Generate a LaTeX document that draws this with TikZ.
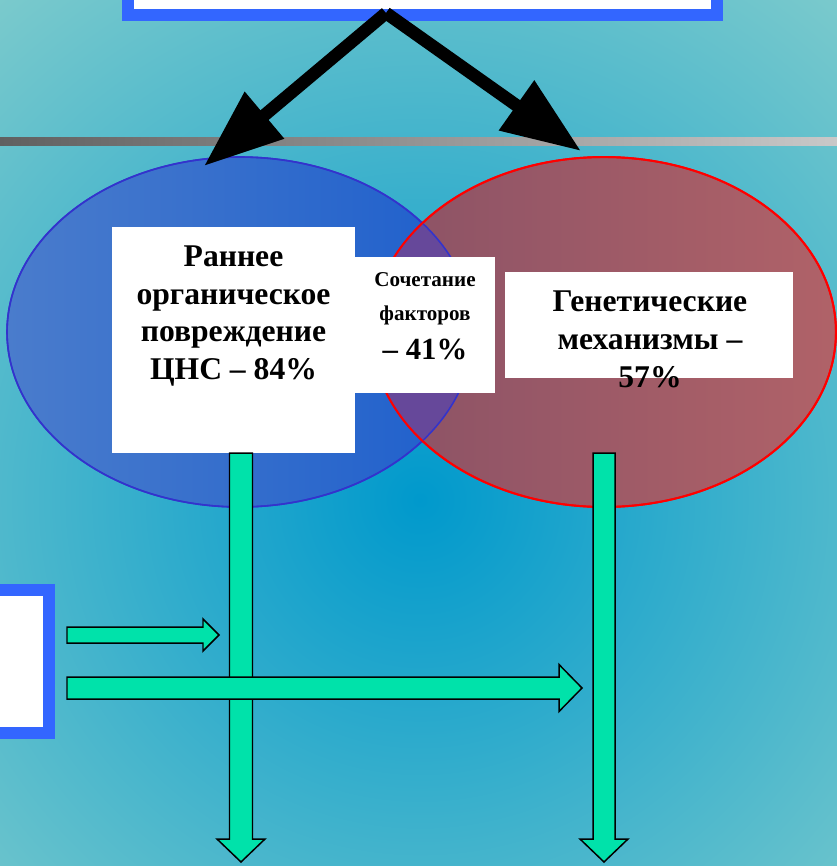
\documentclass[tikz,border=0pt]{standalone}
\usepackage{fontspec}
\setmainfont{Liberation Serif}
\usetikzlibrary{arrows.meta,shapes.geometric,calc}
\definecolor{slideCenter}{HTML}{0099CC}
\definecolor{slideEdge}{HTML}{80CCCC}
\definecolor{frameBlue}{HTML}{3366FF}
\definecolor{setBlueLight}{HTML}{4A7CCC}
\definecolor{setBlueDark}{HTML}{1E5FCC}
\definecolor{setBlueLine}{HTML}{3333CC}
\definecolor{setRedLight}{HTML}{B06268}
\definecolor{setRedDark}{HTML}{8A5266}
\definecolor{setOverlap}{HTML}{66489A}
\definecolor{flowGreen}{HTML}{00E2AA}
\definecolor{ruleDark}{HTML}{606060}
\definecolor{ruleLight}{HTML}{C8C8C8}
\pgfdeclareradialshading{slideglow}{\pgfpoint{0bp}{0bp}}{color(0bp)=(slideCenter); color(28bp)=(slideEdge); color(50bp)=(slideEdge)}
\newcommand\bigtext{\fontsize{18}{21.6}\selectfont\bfseries}
\tikzset{
  framebox/.style={draw=frameBlue, line width=6.8pt, fill=white, inner sep=0pt},
  setblue/.style={ellipse, draw=setBlueLine, line width=0.9pt, left color=setBlueLight, right color=setBlueDark,
    minimum width=9.32cm, minimum height=7cm, inner sep=0pt},
  setred/.style={ellipse, draw=red, line width=1.1pt, left color=setRedDark, right color=setRedLight,
    minimum width=9.28cm, minimum height=7cm, inner sep=0pt},
  whitebox/.style={fill=white, inner sep=0pt},
  boxtext/.style={align=center, inner sep=0pt, anchor=north},
  splitarrow/.style={-{Triangle[length=45pt, width=33pt]}, line width=7.2pt, draw=black},
  flowarrow/.style={fill=flowGreen, draw=black, line width=0.85pt, line join=miter}
}
% block arrows: start, tip, shaft half width, head half width, head length
\newcommand\flowdown[5]{%
  \draw[flowarrow] ($(#1)+(-#3,0)$) -- ($(#2)+(-#3,-#5)$) -- ($(#2)+(-#4,-#5)$) -- (#2)
    -- ($(#2)+(#4,-#5)$) -- ($(#2)+(#3,-#5)$) -- ($(#1)+(#3,0)$) -- cycle;}
\newcommand\flowright[5]{%
  \draw[flowarrow] ($(#1)+(0,-#3)$) -- ($(#2)+(-#5,-#3)$) -- ($(#2)+(-#5,-#4)$) -- (#2)
    -- ($(#2)+(-#5,#4)$) -- ($(#2)+(-#5,#3)$) -- ($(#1)+(0,#3)$) -- cycle;}
\begin{document}
\begin{tikzpicture}[x=0.02cm, y=-0.02cm]
  \useasboundingbox (0,0) rectangle (837,866);
  \clip (0,0) rectangle (837,866);
  \shade[shading=slideglow] (-190,-110) rectangle (1030,1110);
  \shade[left color=ruleDark, right color=ruleLight] (0,137) rectangle (837,145);

  % two sets
  \node[setblue] (cnsset) at (240,332) {};
  \node[setred] (geneset) at (604,332) {};
  \begin{scope}
    \clip (cnsset.center) ellipse [x radius=233, y radius=175];
    \fill[setOverlap] (geneset.center) ellipse [x radius=232, y radius=175];
  \end{scope}
  \draw[setBlueLine, line width=0.9pt] (cnsset.center) ellipse [x radius=233, y radius=175];
  \draw[red, line width=1.1pt] (geneset.center) ellipse [x radius=232, y radius=175];

  \node[whitebox, minimum width=4.86cm, minimum height=4.52cm] (cnsbox) at (233.5,340) {};
  \node[whitebox, minimum width=2.8cm, minimum height=2.72cm] (combobox) at (425,325) {};
  \node[whitebox, minimum width=5.76cm, minimum height=2.12cm] (genebox) at (649,325) {};

  \node[boxtext, font=\bigtext] (cnstext) at (233.5,245)
    {Раннее\\органическое\\повреждение\\ЦНС – 84\%};
  \node[boxtext, font=\fontsize{12}{19.3}\selectfont\bfseries] (combotext) at (425,272)
    {Сочетание\\факторов\\[3pt]{\fontsize{17.5}{19.3}\selectfont – 41\%}};
  \node[boxtext, font=\bigtext] (genetext) at (650,290.5)
    {Генетические\\механизмы –\\57\%};

  \node[framebox, minimum width=11.78cm, minimum height=1.2cm, anchor=south] (topframe) at (422.5,21) {};
  \coordinate (split) at (386,13);
  \coordinate (cnstip) at (204,166);
  \coordinate (genetip) at (581,151);
  \draw[splitarrow] (split) -- (cnstip);
  \draw[splitarrow] (split) -- (genetip);

  \coordinate (cnsflow) at (241,453);
  \coordinate (cnsflowtip) at (241,862);
  \coordinate (geneflow) at (604,453);
  \coordinate (geneflowtip) at (604,862);
  \flowdown{cnsflow}{cnsflowtip}{11.5}{24}{23}
  \flowdown{geneflow}{geneflowtip}{11}{24}{23}

  \node[framebox, minimum width=2.4cm, minimum height=2.86cm, anchor=east] (sidebox) at (55,661.5) {};
  \coordinate (sideshort) at (67,635);
  \coordinate (sideshorttip) at (219,635);
  \coordinate (sidelong) at (67,688);
  \coordinate (sidelongtip) at (582,688);
  \flowright{sideshort}{sideshorttip}{8}{16}{16}
  \flowright{sidelong}{sidelongtip}{11}{23.5}{23}
\end{tikzpicture}
\end{document}
